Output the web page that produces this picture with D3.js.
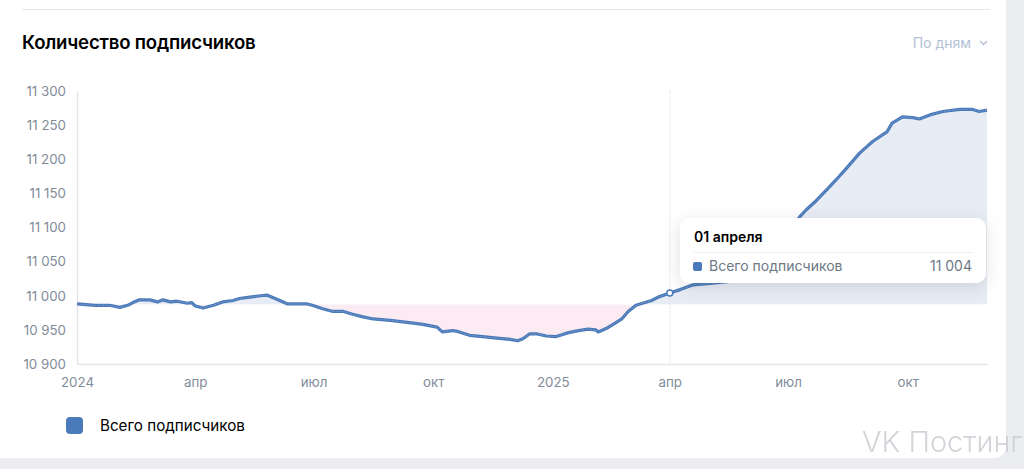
<!DOCTYPE html>
<html><head><meta charset="utf-8">
<script src="https://cdn.jsdelivr.net/npm/d3@7"></script>
<style>
html,body{margin:0;padding:0;background:#ebedf0;}
svg{display:block;font-family:Inter,Roboto,sans-serif;}
</style></head>
<body><svg id="c" width="1024" height="469"></svg>
<script>
const title = "Количество подписчиков";
const periodLabel = "По дням";
const seriesName = "Всего подписчиков";
const dates = ["2024-01-01","2024-01-15","2024-01-26","2024-02-03","2024-02-09","2024-02-13","2024-02-18","2024-02-26","2024-03-03","2024-03-07","2024-03-13","2024-03-18","2024-03-26","2024-03-29","2024-04-01","2024-04-07","2024-04-15","2024-04-22","2024-04-30","2024-05-05","2024-05-13","2024-05-21","2024-05-26","2024-05-31","2024-06-05","2024-06-11","2024-06-18","2024-06-26","2024-06-30","2024-07-08","2024-07-16","2024-07-24","2024-07-31","2024-08-08","2024-08-16","2024-08-29","2024-09-11","2024-09-23","2024-10-04","2024-10-08","2024-10-16","2024-10-21","2024-10-29","2024-11-08","2024-11-19","2024-11-29","2024-12-05","2024-12-09","2024-12-14","2024-12-20","2024-12-27","2025-01-03","2025-01-08","2025-01-13","2025-01-21","2025-01-28","2025-02-03","2025-02-05","2025-02-11","2025-02-18","2025-02-23","2025-02-28","2025-03-06","2025-03-13","2025-03-18","2025-03-23","2025-04-01","2025-04-09","2025-04-19","2025-05-02","2025-05-17","2025-05-29","2025-06-09","2025-06-21","2025-07-02","2025-07-10","2025-07-15","2025-07-23","2025-07-31","2025-08-07","2025-08-15","2025-08-25","2025-09-04","2025-09-15","2025-09-19","2025-09-27","2025-10-05","2025-10-10","2025-10-18","2025-10-28","2025-11-10","2025-11-20","2025-11-25","2025-12-01"];
const values = [10988,10986,10986,10983,10986,10990,10994,10994,10991,10994,10991,10992,10989,10990,10985,10982,10986,10991,10993,10996,10998,11000,11001,10997,10993,10988,10988,10988,10986,10981,10977,10977,10973,10969,10966,10964,10961,10958,10954,10947,10949,10947,10942,10940,10938,10936,10934,10937,10944,10944,10941,10940,10943,10946,10949,10951,10950,10947,10952,10960,10966,10977,10986,10990,10993,10998,11004,11009,11016,11018,11021,11030,11048,11068,11095,11116,11126,11140,11156,11170,11187,11209,11226,11240,11253,11262,11261,11259,11265,11270,11273,11273,11270,11272];
const yTicks = [10900,10950,11000,11050,11100,11150,11200,11250,11300];
const xTickDates = ["2024-01-01","2024-04-01","2024-07-01","2024-10-01","2025-01-01","2025-04-01","2025-07-01","2025-10-01"];
const xTickLabels = ["2024","апр","июл","окт","2025","апр","июл","окт"];
const hoverDate = "2025-04-01";
const hoverLabel = "01 апреля";
const baselineValue = 10987;

const parse = d3.utcParse("%Y-%m-%d");
const data = dates.map((d,i)=>({date:parse(d), value:values[i]}));
const svg = d3.select("#c");
const blue = "#4a7ab9";

// card
svg.append("path").attr("d","M0,0 H1006 V446 A12,12 0 0 1 994,458 H0 Z").attr("fill","#fff");
svg.append("line").attr("x1",22).attr("x2",990).attr("y1",9.5).attr("y2",9.5).attr("stroke","#e7e8ec").attr("stroke-width",1);

svg.append("text").attr("x",22).attr("y",49).text(title)
  .attr("font-size",18.6).attr("font-weight",600).attr("fill","#000").attr("letter-spacing","-0.2");
svg.append("text").attr("x",971).attr("y",48).attr("text-anchor","end").text(periodLabel)
  .attr("font-size",14).attr("fill","#b4c1d6");
svg.append("path").attr("d","M980,41 l3.5,3.5 l3.5,-3.5").attr("fill","none").attr("stroke","#b4c1d6").attr("stroke-width",1.5);

const x = d3.scaleUtc().domain([parse("2024-01-01"), parse("2025-12-01")]).range([77,987]);
const y = d3.scaleLinear().domain([10900,11300]).range([364,91]);
const fmt = d3.formatLocale({decimal:",",thousands:" ",grouping:[3]}).format(",d");

// axes
const yAxis = svg.append("g").attr("transform","translate(77,0)")
  .call(d3.axisLeft(y).tickValues(yTicks).tickFormat(fmt).tickSize(0).tickPadding(11));
yAxis.select(".domain").attr("stroke","#e4e6ea").attr("stroke-width",1.5);
yAxis.selectAll("text").attr("font-size",13.3).attr("fill","#818c99").attr("font-family","Inter,Roboto,sans-serif");

const xAxis = svg.append("g").attr("transform","translate(0,364)")
  .call(d3.axisBottom(x).tickValues(xTickDates.map(parse)).tickFormat((d,i)=>xTickLabels[i]).tickSize(0).tickPadding(14));
xAxis.select(".domain").attr("stroke","#e4e6ea").attr("stroke-width",1.5);
xAxis.selectAll("text").attr("font-size",13.3).attr("fill","#818c99").attr("font-family","Inter,Roboto,sans-serif");

// areas
const by = y(baselineValue);
const defs = svg.append("defs");
defs.append("clipPath").attr("id","above").append("rect").attr("x",0).attr("y",0).attr("width",1024).attr("height",by);
defs.append("clipPath").attr("id","below").append("rect").attr("x",0).attr("y",by).attr("width",1024).attr("height",469-by);
const area = d3.area().x(d=>x(d.date)).y0(by).y1(d=>y(d.value));
svg.append("path").datum(data).attr("d",area).attr("fill","#e8edf5").attr("clip-path","url(#above)");
svg.append("path").datum(data).attr("d",area).attr("fill","#fdebf3").attr("clip-path","url(#below)");

// crosshair
const hx = x(parse(hoverDate));
svg.append("line").attr("x1",hx).attr("x2",hx).attr("y1",91).attr("y2",364)
  .attr("stroke","#d5d8de").attr("stroke-width",1).attr("stroke-dasharray","1,1.5");

// line
const line = d3.line().x(d=>x(d.date)).y(d=>y(d.value)).curve(d3.curveLinear);
svg.append("path").datum(data).attr("d",line).attr("fill","none").attr("stroke",blue).attr("stroke-width",3.2).attr("stroke-linejoin","round");
svg.append("path").datum(data).attr("d",line).attr("fill","none").attr("stroke","#9dbbe0").attr("stroke-width",1).attr("stroke-dasharray","1,1.6").attr("opacity",0.75);

const hv = data.find(d=>+d.date===+parse(hoverDate));
svg.append("circle").attr("cx",hx).attr("cy",y(hv.value)).attr("r",3).attr("fill","#fff").attr("stroke",blue).attr("stroke-width",1.5);

// tooltip
const f = defs.append("filter").attr("id","sh").attr("x","-20%").attr("y","-40%").attr("width","140%").attr("height","180%");
f.append("feDropShadow").attr("dx",0).attr("dy",4).attr("stdDeviation",9).attr("flood-color","#000").attr("flood-opacity",0.12);
const tt = svg.append("g");
tt.append("rect").attr("x",680).attr("y",218).attr("width",306).attr("height",65).attr("rx",10).attr("fill","#fff").attr("filter","url(#sh)");
tt.append("text").attr("x",694).attr("y",242).text(hoverLabel).attr("font-size",14).attr("font-weight",600).attr("fill","#000");
tt.append("line").attr("x1",694).attr("x2",972).attr("y1",252.5).attr("y2",252.5).attr("stroke","#eceef1");
tt.append("rect").attr("x",693).attr("y",262).attr("width",9).attr("height",9).attr("rx",2).attr("fill",blue);
tt.append("text").attr("x",709).attr("y",271).text(seriesName).attr("font-size",14).attr("fill","#6d7885");
tt.append("text").attr("x",972).attr("y",271).attr("text-anchor","end").text(fmt(hv.value)).attr("font-size",14).attr("fill","#6d7885");

// legend
svg.append("rect").attr("x",66).attr("y",417).attr("width",17).attr("height",17).attr("rx",4).attr("fill",blue);
svg.append("text").attr("x",100).attr("y",431).text(seriesName).attr("font-size",15.2).attr("fill","#000");

// watermark
svg.append("text").attr("x",862).attr("y",452).text("VK Постинг").attr("font-size",29).attr("font-weight",300).attr("fill","#cfd0d6").attr("opacity",0.9);
</script></body></html>
